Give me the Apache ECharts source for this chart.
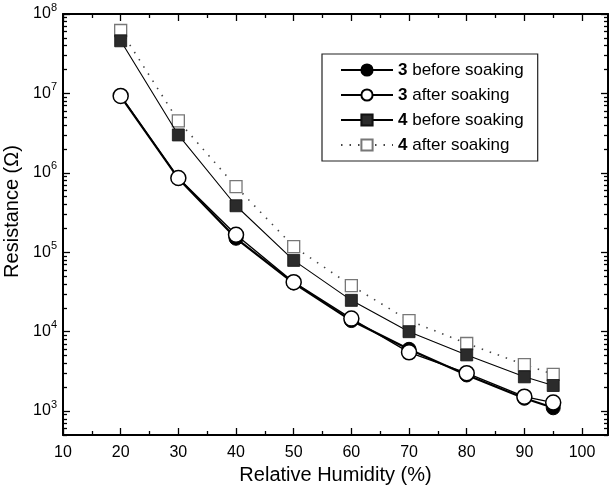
<!DOCTYPE html>
<html>
<head>
<meta charset="utf-8">
<script src="https://cdn.jsdelivr.net/npm/echarts@6/dist/echarts.min.js"></script>
<style>
  html, body { margin: 0; padding: 0; background: #fff; }
  #chart { width: 613px; height: 490px; }
</style>
</head>
<body>
<div id="chart"></div>
<script>
// Relative humidity (%) at which resistance was measured
const humidity = [20, 30, 40, 50, 60, 70, 80, 90, 95];

// Resistance (ohm) of samples 3 and 4, before and after soaking
const s3Before = [9.2e6, 8.5e5, 1.5e5, 4.1e4, 1.38e4, 6.0e3, 2.85e3, 1.45e3, 1.1e3];
const s3After  = [9.3e6, 8.6e5, 1.66e5, 4.2e4, 1.46e4, 5.5e3, 3.0e3, 1.52e3, 1.28e3];
const s4Before = [4.6e7, 3.0e6, 3.85e5, 7.9e4, 2.48e4, 1.0e4, 5.1e3, 2.7e3, 2.1e3];
const s4After  = [6.2e7, 4.5e6, 6.7e5, 1.18e5, 3.8e4, 1.38e4, 7.1e3, 3.85e3, 2.9e3];

const seriesNames = ['3 before soaking', '3 after soaking', '4 before soaking', '4 after soaking'];

// Tick positions along the humidity axis
const xMajorTicks = [10, 20, 30, 40, 50, 60, 70, 80, 90, 100];
const xMinorTicks = [15, 25, 35, 45, 55, 65, 75, 85, 95];

// Decade ticks (labelled) and the 2..9 minor ticks in between
const decadeTicks = [1e3, 1e4, 1e5, 1e6, 1e7, 1e8];
const minorTicks = [];
for (let e = 2; e <= 7; e++) {
  for (let m = 2; m <= 9; m++) {
    const v = m * Math.pow(10, e);
    if (v >= 500 && v <= 1e8) minorTicks.push(v);
  }
}

const FONT = '"Liberation Sans", Arial, sans-serif';
const yMin = 500, yMax = 1e8;
const xMin = 10, xMax = 104.5;

function pair(arr) { return humidity.map((h, i) => [h, arr[i]]); }

function yAxisDef(position, labelled, ticks, len) {
  return {
    type: 'log', min: yMin, max: yMax, position: position,
    axisLine: { show: labelled, onZero: false, lineStyle: { color: '#000', width: 2 } },
    axisTick: { show: true, inside: true, length: len, customValues: ticks,
                lineStyle: { color: '#000', width: 1.3 } },
    axisLabel: {
      show: labelled && position === 'left', customValues: ticks, margin: 6,
      fontFamily: FONT,
      formatter: function (v) {
        const e = Math.round(Math.log10(v));
        return '{b|10}{s|' + e + '}';
      },
      rich: {
        b: { fontSize: 16, color: '#000', fontFamily: FONT },
        s: { fontSize: 11, color: '#000', fontFamily: FONT, padding: [0, 0, 13, 0] }
      }
    },
    splitLine: { show: false },
    name: (labelled && position === 'left') ? 'Resistance (\u03A9)' : '',
    nameLocation: 'middle', nameGap: 37,
    nameTextStyle: { fontSize: 20, fontFamily: FONT, color: '#000', padding: [0, 0, 0, 26] }
  };
}

function xAxisDef(position, labelled, ticks, len) {
  return {
    type: 'value', min: xMin, max: xMax, position: position,
    axisLine: { show: labelled, onZero: false, lineStyle: { color: '#000', width: 2 } },
    axisTick: { show: true, inside: true, length: len, customValues: ticks,
                lineStyle: { color: '#000', width: 1.3 } },
    axisLabel: { show: labelled && position === 'bottom', customValues: ticks,
                 fontSize: 16, fontFamily: FONT, color: '#000', margin: 10 },
    splitLine: { show: false },
    name: (labelled && position === 'bottom') ? 'Relative Humidity (%)' : '',
    nameLocation: 'middle', nameGap: 29,
    nameTextStyle: { fontSize: 20, fontFamily: FONT, color: '#000' }
  };
}

const chart = echarts.init(document.getElementById('chart'), null, { renderer: 'canvas' });

chart.setOption({
  animation: false,
  backgroundColor: '#fff',
  grid: { left: 63, top: 14, right: 5, bottom: 55, containLabel: false, outerBoundsMode: 'none' },
  xAxis: [
    xAxisDef('bottom', true, xMajorTicks, 7),
    xAxisDef('bottom', false, xMinorTicks, 4),
    xAxisDef('top', true, xMajorTicks, 7),
    xAxisDef('top', false, xMinorTicks, 4)
  ],
  yAxis: [
    yAxisDef('left', true, decadeTicks, 7),
    yAxisDef('left', false, minorTicks, 4),
    yAxisDef('right', true, decadeTicks, 7),
    yAxisDef('right', false, minorTicks, 4)
  ],
  legend: {
    data: seriesNames,
    orient: 'vertical',
    left: 322, top: 54,
    width: 247,
    padding: [6, 14, 6, 18],
    itemWidth: 52, itemHeight: 14, itemGap: 5,
    borderColor: '#222', borderWidth: 1.2,
    backgroundColor: '#fff',
    formatter: function (name) {
      const parts = name.split(' ');
      return '{n|' + parts[0] + '} ' + parts.slice(1).join(' ');
    },
    textStyle: {
      fontSize: 17, fontFamily: FONT, color: '#000', lineHeight: 20,
      rich: { n: { fontSize: 17, fontWeight: 'bold', fontFamily: FONT, color: '#000' } }
    }
  },
  series: [
    {
      name: seriesNames[3], type: 'line', data: pair(s4After),
      symbol: 'rect', symbolSize: 12,
      itemStyle: { color: '#fff', borderColor: '#777', borderWidth: 1.3 },
      lineStyle: { color: '#444', width: 1.6, type: [1.5, 7] },
      z: 2
    },
    {
      name: seriesNames[2], type: 'line', data: pair(s4Before),
      symbol: 'rect', symbolSize: 12,
      itemStyle: { color: '#2b2b2b', borderColor: '#111', borderWidth: 0.8 },
      lineStyle: { color: '#000', width: 1.1 },
      z: 3
    },
    {
      name: seriesNames[0], type: 'line', data: pair(s3Before),
      symbol: 'circle', symbolSize: 14,
      itemStyle: { color: '#000', borderColor: '#000', borderWidth: 1 },
      lineStyle: { color: '#000', width: 2.2 },
      z: 4
    },
    {
      name: seriesNames[1], type: 'line', data: pair(s3After),
      symbol: 'circle', symbolSize: 15,
      itemStyle: { color: '#fff', borderColor: '#000', borderWidth: 1.5 },
      lineStyle: { color: '#000', width: 1.4 },
      z: 5
    }
  ]
});
</script>
</body>
</html>
